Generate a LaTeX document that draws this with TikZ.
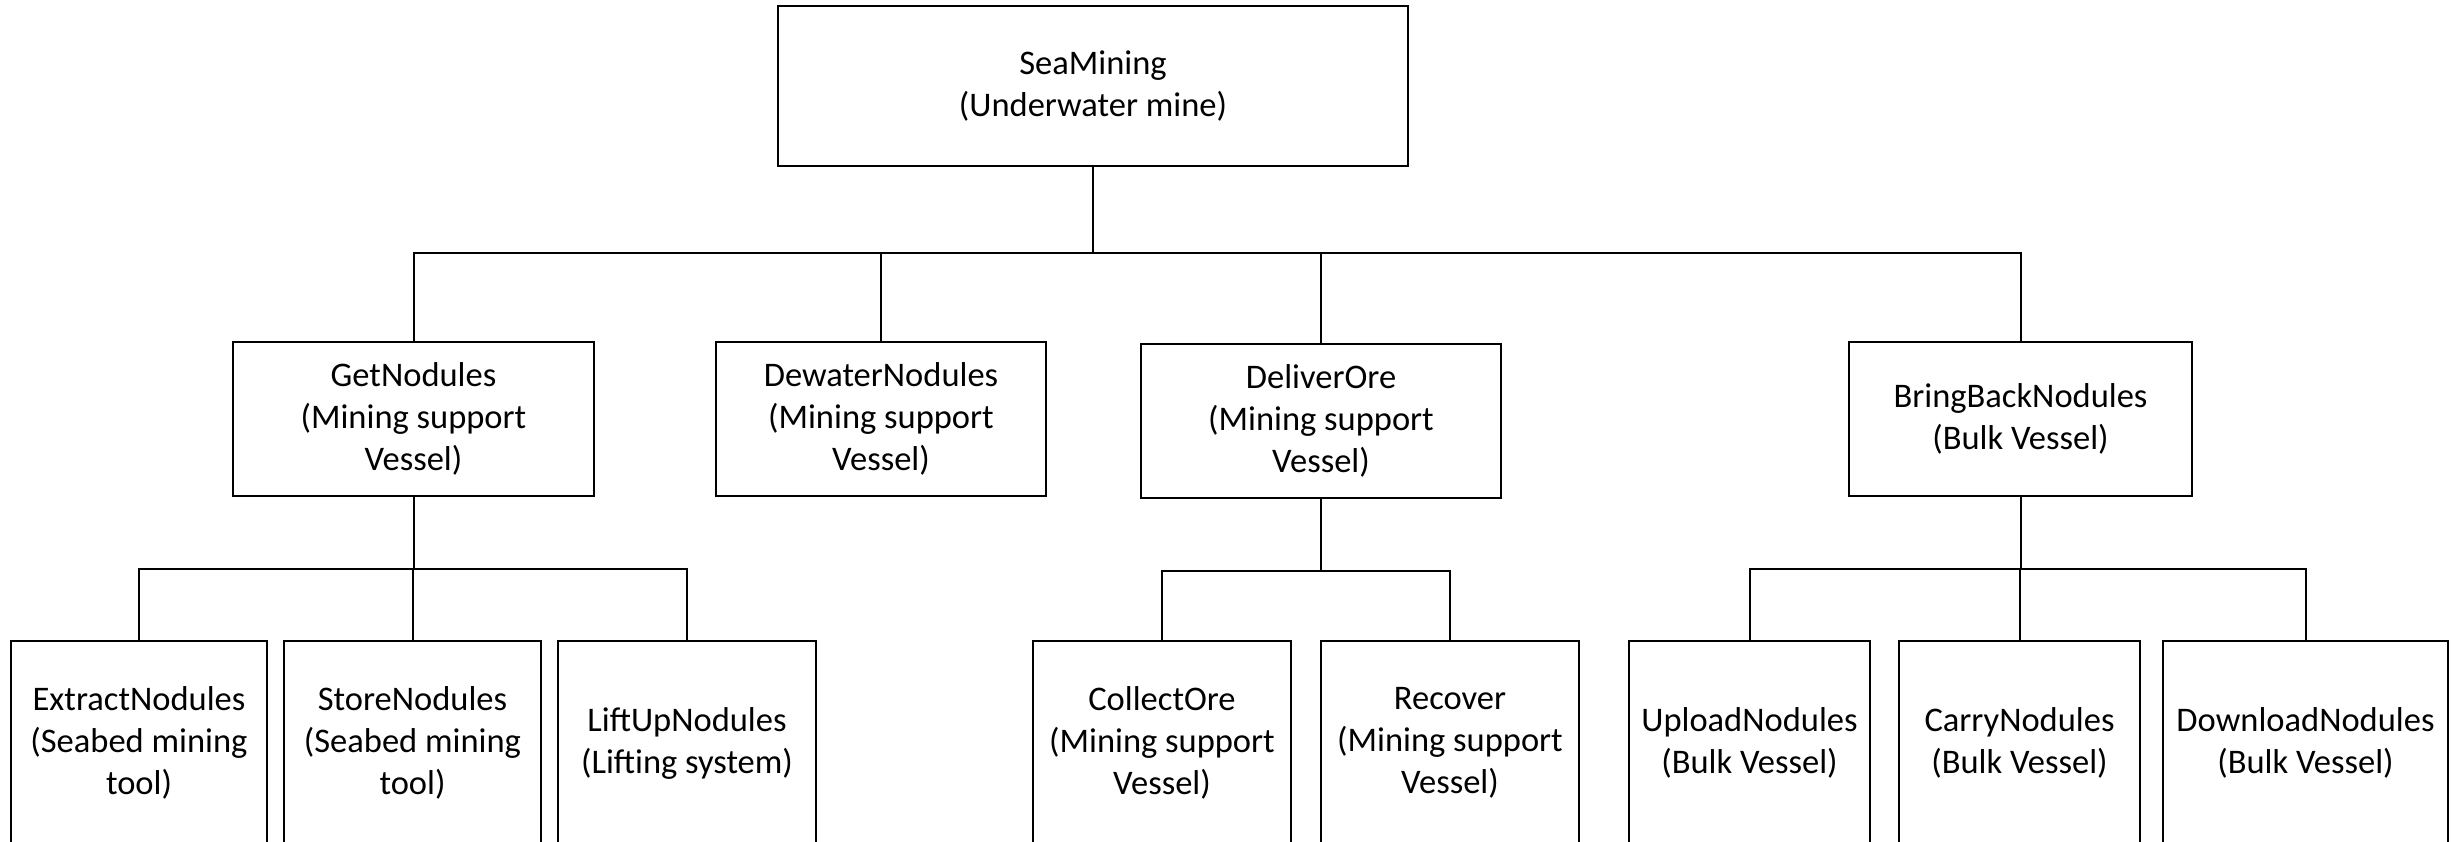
\documentclass[tikz,border=0pt]{standalone}
\usepackage{fontspec}
\setmainfont{Carlito}
\begin{document}
\begin{tikzpicture}[x=1pt,y=-1pt,
  box/.style={draw=black, line width=2pt, rectangle, align=center, inner sep=0pt,
    font=\fontsize{34.5pt}{42pt}\selectfont},
  link/.style={draw=black, line width=2pt}]
\useasboundingbox (0,0) rectangle (2451,842);
% root
\node[box, minimum width=630, minimum height=160] (sea) at (1093,86) {SeaMining\\(Underwater mine)};
% second level
\node[box, minimum width=361, minimum height=154] (get) at (413.5,419) {GetNodules\\(Mining support\\Vessel)};
\node[box, minimum width=330, minimum height=154] (dew) at (881,419) {DewaterNodules\\(Mining support\\Vessel)};
\node[box, minimum width=360, minimum height=154] (del) at (1321,421) {DeliverOre\\(Mining support\\Vessel)};
\node[box, minimum width=343, minimum height=154] (bring) at (2020.5,419) {BringBackNodules\\(Bulk Vessel)};
% third level
\node[box, minimum width=256, minimum height=204] (ext) at (139,743) {ExtractNodules\\(Seabed mining\\tool)};
\node[box, minimum width=257, minimum height=204] (sto) at (412.5,743) {StoreNodules\\(Seabed mining\\tool)};
\node[box, minimum width=258, minimum height=204] (lift) at (687,743) {LiftUpNodules\\(Lifting system)};
\node[box, minimum width=258, minimum height=204] (col) at (1162,743) {CollectOre\\(Mining support\\Vessel)};
\node[box, minimum width=258, minimum height=204] (rec) at (1450,743) {Recover\\(Mining support\\Vessel)};
\node[box, minimum width=241, minimum height=204] (up) at (1749.5,743) {UploadNodules\\(Bulk Vessel)};
\node[box, minimum width=241, minimum height=204] (car) at (2019.5,743) {CarryNodules\\(Bulk Vessel)};
\node[box, minimum width=285, minimum height=204] (down) at (2305.5,743) {DownloadNodules\\(Bulk Vessel)};
% bus levels
\coordinate (busA) at (0,253);
\coordinate (busB) at (0,569);
\coordinate (busC) at (0,571);
% connectors
\foreach \c in {get,dew,del,bring}
  \draw[link] (sea.south) |- (\c.north |- busA) -- (\c.north);
\foreach \c in {ext,sto,lift}
  \draw[link] (get.south) |- (\c.north |- busB) -- (\c.north);
\foreach \c in {col,rec}
  \draw[link] (del.south) |- (\c.north |- busC) -- (\c.north);
\foreach \c in {up,car,down}
  \draw[link] (bring.south) |- (\c.north |- busB) -- (\c.north);
\end{tikzpicture}
\end{document}
